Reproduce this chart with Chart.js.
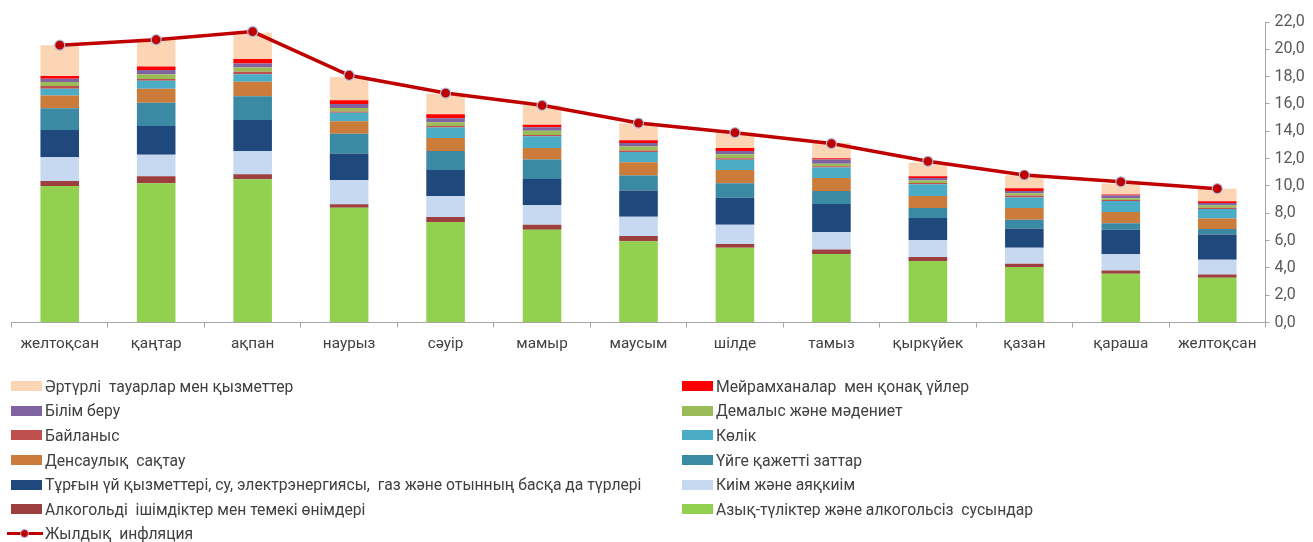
<!DOCTYPE html>
<html>
<head>
<meta charset="utf-8">
<script src="https://cdn.jsdelivr.net/npm/chart.js@4.4.1/dist/chart.umd.min.js"></script>
<style>
  html, body { margin: 0; padding: 0; background: #fff; }
  #wrap { position: relative; width: 1313px; height: 542px; overflow: hidden; }
  #chartBox { position: absolute; left: 0; top: 0; width: 1313px; height: 542px; }
  #legend { position: absolute; left: 7px; top: 374px; width: 1300px;
            display: grid; grid-template-columns: 671px 600px; grid-auto-rows: 24.6px;
            font-family: Roboto, "Noto Sans", sans-serif; font-size: 15.7px; color: #404040; }
  .li { display: flex; align-items: center; white-space: pre; height: 24.6px; }
  .sw { width: 31px; height: 10px; margin-left: 4px; margin-right: 3px; flex: none; }
  .ln { position: relative; width: 36px; height: 10px; margin-right: 2px; flex: none; }
  .ln i { position: absolute; left: 0; right: 0; top: 3.5px; height: 3px; background: #C00000; }
  .ln b { position: absolute; left: 13px; top: 0.5px; width: 7px; height: 7px; border-radius: 50%;
          background: #C00000; border: 1px solid #A9BCDC; }
</style>
</head>
<body>
<div id="wrap">
  <div id="chartBox"><canvas id="c"></canvas></div>
  <div id="legend"></div>
</div>
<script>
const categories = ['желтоқсан','қаңтар','ақпан','наурыз','сәуір','мамыр','маусым','шілде','тамыз','қыркүйек','қазан','қараша','желтоқсан'];

const food          = [9.99, 10.19, 10.48, 8.41, 7.36, 6.79, 5.94, 5.47, 5.01, 4.50, 4.06, 3.57, 3.28];
const alcohol       = [0.37, 0.51, 0.37, 0.24, 0.36, 0.37, 0.39, 0.27, 0.34, 0.29, 0.24, 0.24, 0.24];
const clothing      = [1.73, 1.59, 1.71, 1.76, 1.54, 1.42, 1.42, 1.42, 1.25, 1.24, 1.17, 1.18, 1.08];
const housing       = [2.00, 2.10, 2.27, 1.96, 1.91, 1.93, 1.91, 1.98, 2.07, 1.62, 1.40, 1.80, 1.85];
const household     = [1.60, 1.69, 1.74, 1.44, 1.39, 1.42, 1.10, 1.05, 0.96, 0.73, 0.66, 0.47, 0.39];
const health        = [0.93, 1.03, 1.05, 0.93, 0.95, 0.85, 0.97, 0.98, 0.95, 0.88, 0.85, 0.83, 0.78];
const transport     = [0.49, 0.58, 0.56, 0.61, 0.76, 0.86, 0.76, 0.75, 0.76, 0.86, 0.78, 0.80, 0.69];
const communication = [0.20, 0.13, 0.17, 0.10, 0.12, 0.09, 0.10, 0.10, 0.10, 0.09, 0.13, 0.08, 0.10];
const recreation    = [0.29, 0.36, 0.32, 0.26, 0.27, 0.30, 0.29, 0.30, 0.19, 0.18, 0.17, 0.12, 0.17];
const education     = [0.25, 0.30, 0.29, 0.29, 0.30, 0.27, 0.27, 0.24, 0.30, 0.19, 0.17, 0.20, 0.17];
const restaurants   = [0.19, 0.27, 0.34, 0.28, 0.29, 0.17, 0.19, 0.22, 0.09, 0.12, 0.19, 0.09, 0.12];
const misc          = [2.25, 2.05, 1.91, 1.70, 1.52, 1.42, 1.25, 1.13, 1.13, 1.01, 0.96, 0.79, 0.93];
const inflation     = [20.3, 20.7, 21.3, 18.1, 16.8, 15.9, 14.6, 13.9, 13.1, 11.8, 10.8, 10.3, 9.8];

const yTicks = [0, 2, 4, 6, 8, 10, 12, 14, 16, 18, 20, 22];

const barSeries = [
  ['Азық-түліктер және алкогольсіз  сусындар', food, '#92D050'],
  ['Алкогольді  ішімдіктер мен темекі өнімдері', alcohol, '#9E3F3F'],
  ['Киім және аяқкиім', clothing, '#C6D9F1'],
  ['Тұрғын үй қызметтері, су, электрэнергиясы,  газ және отынның басқа да түрлері', housing, '#1F497D'],
  ['Үйге қажетті заттар', household, '#3B8AA3'],
  ['Денсаулық  сақтау', health, '#CB7B3A'],
  ['Көлік', transport, '#4BACC6'],
  ['Байланыс', communication, '#C0504D'],
  ['Демалыс және мәдениет', recreation, '#9BBB59'],
  ['Білім беру', education, '#8064A2'],
  ['Мейрамханалар  мен қонақ үйлер', restaurants, '#FF0000'],
  ['Әртүрлі  тауарлар мен қызметтер', misc, '#FCD5B5']
];

const datasets = barSeries.map(([label, data, color]) => ({
  type: 'bar', label, data, backgroundColor: color, borderWidth: 0,
  stack: 's', order: 2, barPercentage: 0.4, categoryPercentage: 1.0
}));
datasets.push({
  type: 'line', label: 'Жылдық  инфляция', data: inflation, order: 1,
  borderColor: '#C00000', backgroundColor: '#C00000', borderWidth: 3.5,
  pointRadius: 5, pointBackgroundColor: '#C00000', pointBorderColor: '#A9BCDC', pointBorderWidth: 1.2,
  tension: 0, yAxisID: 'y'
});

Chart.defaults.font.family = 'Roboto, "Noto Sans", sans-serif';

const chart = new Chart(document.getElementById('c'), {
  data: { labels: categories, datasets },
  options: {
    responsive: true, maintainAspectRatio: false, animation: false,
    layout: { padding: { left: 11.5, right: 0, top: 22, bottom: 179.5 } },
    plugins: { legend: { display: false }, tooltip: { enabled: false } },
    scales: {
      x: {
        stacked: true,
        grid: { display: true, drawOnChartArea: false, offset: true, tickLength: 5, color: '#A6A6A6', lineWidth: 1 },
        border: { display: true, color: '#A6A6A6', width: 1 },
        ticks: { color: '#404040', font: { size: 15.3 }, padding: 7, maxRotation: 0, autoSkip: false },
        afterFit: s => { s.height = 40; }
      },
      y: {
        position: 'right', stacked: true, min: 0, max: 22,
        afterBuildTicks: s => { s.ticks = yTicks.map(v => ({ value: v })); },
        grid: { display: true, drawOnChartArea: false, tickLength: 4, color: '#A6A6A6' },
        border: { display: true, color: '#A6A6A6', width: 1 },
        ticks: { color: '#595959', font: { size: 16 }, padding: 5,
                 callback: v => v.toFixed(1).replace('.', ',') },
        afterFit: s => { s.width = 47.5; }
      }
    }
  }
});

// HTML legend built from the chart's own legend items
const items = Chart.defaults.plugins.legend.labels.generateLabels(chart);
const barItems = items.filter(it => chart.data.datasets[it.datasetIndex].type === 'bar').reverse();
const lineItems = items.filter(it => chart.data.datasets[it.datasetIndex].type === 'line');
const legendEl = document.getElementById('legend');
[...barItems, ...lineItems].forEach(it => {
  const div = document.createElement('div');
  div.className = 'li';
  const ds = chart.data.datasets[it.datasetIndex];
  if (ds.type === 'line') {
    const ln = document.createElement('span'); ln.className = 'ln';
    ln.innerHTML = '<i></i><b></b>';
    div.appendChild(ln);
  } else {
    const sw = document.createElement('span'); sw.className = 'sw';
    sw.style.background = it.fillStyle;
    div.appendChild(sw);
  }
  const t = document.createElement('span'); t.textContent = it.text;
  div.appendChild(t);
  legendEl.appendChild(div);
});
</script>
</body>
</html>
